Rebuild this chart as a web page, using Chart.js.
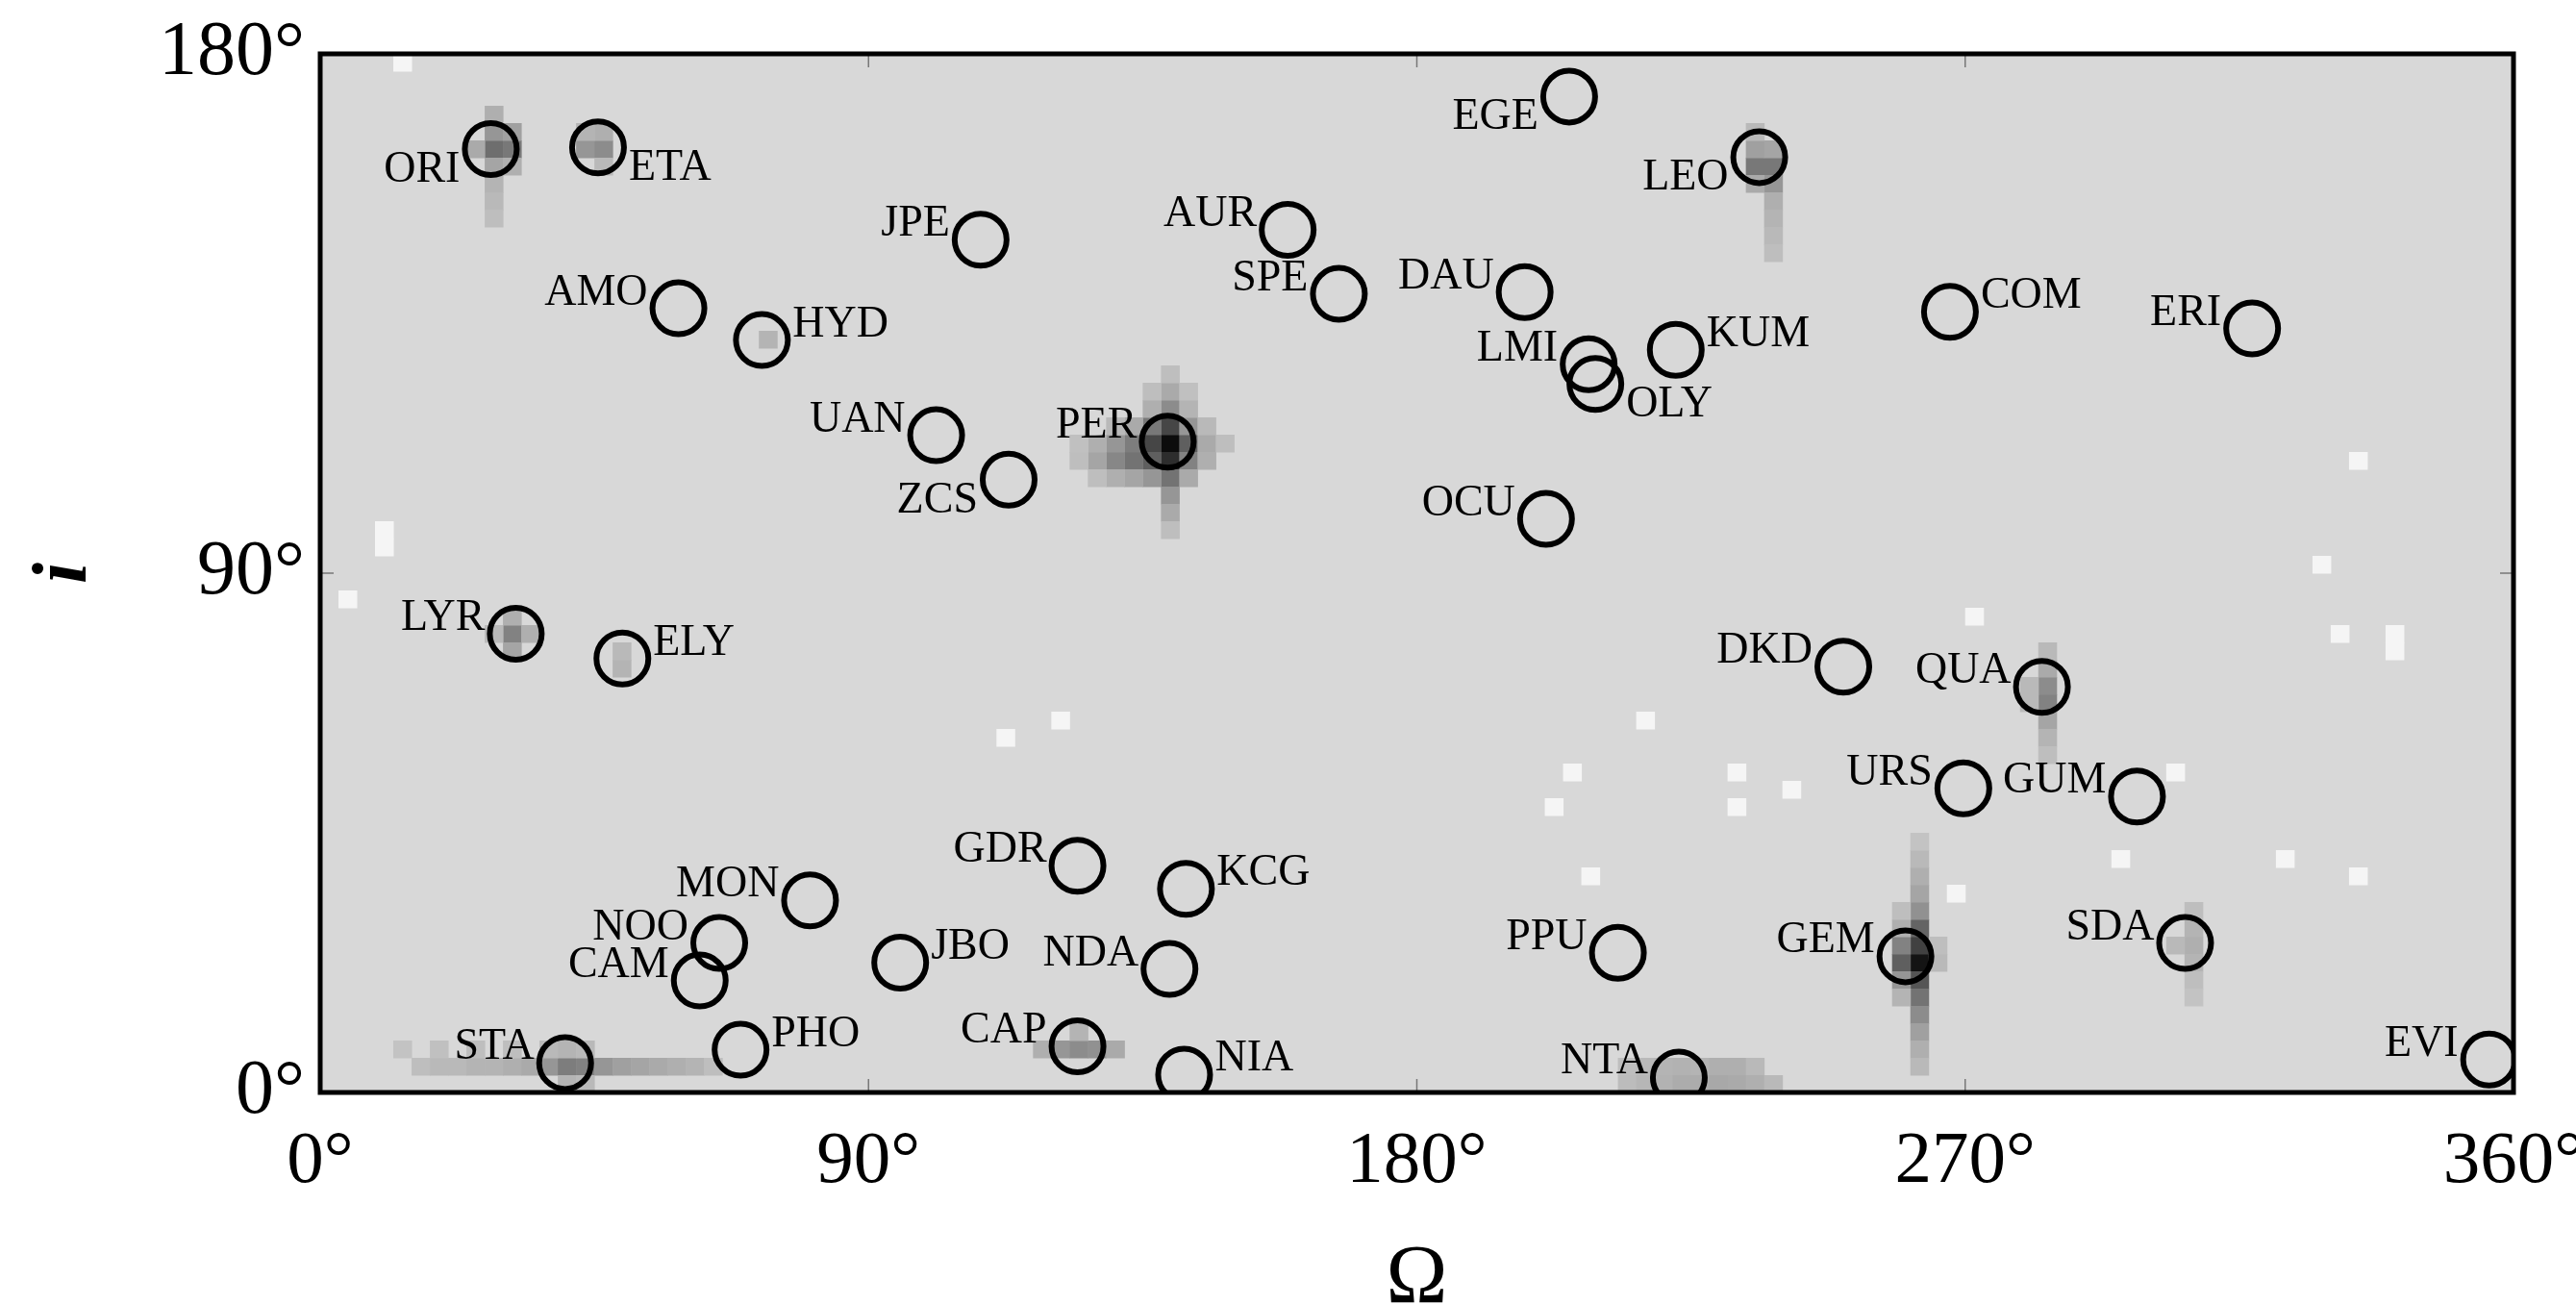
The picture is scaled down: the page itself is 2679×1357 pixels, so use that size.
<!DOCTYPE html>
<html>
<head>
<meta charset="utf-8">
<script src="https://cdn.jsdelivr.net/npm/chart.js@4.4.1/dist/chart.umd.min.js"></script>
<style>
  html, body { margin: 0; padding: 0; background: #fff; }
  #wrap { width: 2679px; height: 1357px; }
</style>
</head>
<body>
<div id="wrap"><canvas id="chart" width="2679" height="1357"></canvas></div>
<script>
// Meteor shower radiants: node longitude (Omega) and inclination (i), in degrees
const showerCodes = ['ORI','ETA','JPE','AUR','EGE','LEO','SPE','DAU','AMO','HYD','COM','ERI','LMI','KUM','OLY',
  'UAN','PER','ZCS','OCU','LYR','ELY','DKD','QUA','URS','GUM','GDR','KCG','MON','NOO','CAM','JBO','NDA','PPU',
  'GEM','SDA','CAP','STA','PHO','NIA','NTA','EVI'];
const showerNode = [28.0, 45.6, 108.4, 158.8, 205.0, 236.2, 167.2, 197.7, 58.8, 72.5, 267.5, 317.1, 208.2, 222.5, 209.3,
  101.1, 139.1, 113.0, 201.2, 32.1, 49.6, 250.0, 282.6, 269.7, 298.2, 124.3, 142.1, 80.4, 65.5, 62.3, 95.2, 139.4, 213.0,
  260.2, 306.1, 124.3, 40.2, 69.0, 141.8, 223.0, 356.0];
const showerIncl = [163.5, 163.8, 147.8, 149.5, 172.6, 162.1, 138.4, 138.7, 135.9, 130.4, 135.3, 132.4, 126.2, 128.7, 122.8,
  113.9, 112.8, 106.2, 99.4, 79.5, 75.2, 73.8, 70.3, 52.7, 51.3, 39.3, 35.3, 33.3, 25.9, 19.4, 22.5, 21.4, 24.2,
  23.6, 25.9, 8.0, 5.1, 7.4, 3.1, 2.6, 5.7];

const xTicks = [0, 90, 180, 270, 360];
const yTicks = [0, 90, 180];

// density map: 3x3 degree cells [Omega start, i start, grey level]
const baseShade = 216;
const hotCells = [
  // PER
  [138,111,12],[138,114,70],[138,108,45],[135,111,70],[141,111,95],[135,108,95],[132,108,115],[129,108,135],
  [126,108,165],[141,108,130],[132,111,125],[129,111,150],[126,111,175],[135,114,120],[141,114,150],[144,111,170],
  [144,108,175],[144,114,185],[138,117,140],[138,120,170],[138,123,190],[138,105,115],[138,102,150],[138,99,170],
  [138,96,190],[135,105,150],[132,105,165],[129,105,175],[141,105,170],[135,117,175],[141,117,180],[132,114,170],
  [129,114,185],[123,108,190],[123,111,192],[126,105,190],[147,111,190],[135,120,190],[141,120,192],
  // GEM
  [261,21,20],[261,24,65],[261,18,85],[261,27,100],[261,15,115],[261,30,145],[261,12,140],[261,33,165],[261,9,160],
  [261,36,175],[261,6,175],[261,39,185],[261,3,185],[261,42,195],[258,21,95],[258,24,130],[258,18,150],[258,27,175],
  [258,15,180],[258,30,190],[264,21,185],[264,24,190],
  // ORI, ETA
  [27,162,110],[30,162,120],[27,165,150],[30,165,160],[24,162,170],[27,168,175],[27,159,165],[30,159,175],[27,156,180],
  [27,153,185],[27,150,190],[42,162,150],[45,162,140],[45,165,175],[42,165,180],[45,159,185],
  // LEO
  [234,159,120],[237,159,120],[234,162,160],[237,162,165],[237,156,150],[234,156,170],[237,153,175],[237,150,180],
  [237,147,185],[237,144,190],[234,165,185],
  // STA band
  [15,3,190],[18,3,185],[21,3,185],[24,3,180],[27,3,180],[30,3,175],[33,3,170],[36,3,150],[39,3,125],[42,3,130],
  [45,3,150],[48,3,160],[51,3,165],[54,3,170],[57,3,175],[60,3,180],[63,3,190],[12,6,195],[18,6,192],[24,6,190],
  [30,6,190],[36,6,185],[39,6,180],[42,6,185],[39,0,180],[42,0,185],
  // CAP
  [117,6,175],[120,6,150],[123,6,140],[126,6,145],[129,6,170],[123,9,180],
  // NTA band
  [213,3,190],[216,3,185],[219,3,180],[222,3,178],[225,3,180],[228,3,175],[231,3,175],[234,3,185],
  [213,0,188],[216,0,182],[219,0,178],[222,0,172],[225,0,172],[228,0,168],[231,0,170],[234,0,175],[237,0,185],
  // QUA
  [282,66,130],[282,69,140],[282,72,170],[282,63,165],[282,60,180],[282,57,190],[282,75,185],[279,69,185],[279,66,185],
  // LYR, ELY, SDA, HYD
  [30,78,130],[30,75,165],[30,81,175],[33,78,175],[27,78,185],[48,72,180],[48,75,185],
  [306,24,175],[306,27,180],[306,21,180],[303,24,185],[306,30,190],[306,18,190],[306,15,195],[72,129,180]
];
const paleCells = [
  [9,93],[9,96],[3,84],[120,63],[111,60],[216,63],[204,54],[201,48],[207,36],[270,81],[327,90],[330,78],[339,75],
  [339,78],[231,54],[231,48],[240,51],[303,54],[321,39],[333,36],[294,39],[267,33],[333,108],[12,177]
];

// where each label sits next to its circle (default: left, above)
const labelSide = { ORI:'lb', ETA:'rb', EGE:'lb', LEO:'lb', OLY:'rb', ZCS:'lb', HYD:'ra', COM:'ra', KUM:'ra',
  ELY:'ra', KCG:'ra', JBO:'ra', PHO:'ra', NIA:'ra' };

const serif = '"Liberation Serif", "DejaVu Serif", serif';

const heatmapPlugin = {
  id: 'heatmap',
  beforeDatasetsDraw(chart) {
    const { ctx, chartArea: a, scales: { x, y } } = chart;
    ctx.save();
    ctx.beginPath();
    ctx.rect(a.left, a.top, a.right - a.left, a.bottom - a.top);
    ctx.clip();
    ctx.fillStyle = `rgb(${baseShade},${baseShade},${baseShade})`;
    ctx.fillRect(a.left, a.top, a.right - a.left, a.bottom - a.top);
    const cell = (om, inc, g) => {
      const x0 = x.getPixelForValue(om), x1 = x.getPixelForValue(om + 3);
      const y0 = y.getPixelForValue(inc + 3), y1 = y.getPixelForValue(inc);
      ctx.fillStyle = `rgb(${g},${g},${g})`;
      ctx.fillRect(x0, y0, x1 - x0 + 0.5, y1 - y0 + 0.5);
    };
    paleCells.forEach(c => cell(c[0], c[1], 245));
    hotCells.forEach(c => cell(c[0], c[1], c[2]));
    ctx.restore();
  }
};

const labelPlugin = {
  id: 'showerLabels',
  afterDatasetsDraw(chart) {
    const { ctx } = chart;
    const meta = chart.getDatasetMeta(0);
    ctx.save();
    ctx.font = '46px ' + serif;
    ctx.fillStyle = '#000';
    ctx.textBaseline = 'alphabetic';
    meta.data.forEach((pt, k) => {
      const code = showerCodes[k];
      const side = labelSide[code] || 'la';
      const dx = 32, dy = 19, capHalf = 15;
      let tx, ty;
      if (side[0] === 'l') { ctx.textAlign = 'right'; tx = pt.x - dx; }
      else { ctx.textAlign = 'left'; tx = pt.x + dx; }
      ty = (side[1] === 'a' ? pt.y - dy : pt.y + dy) + capHalf;
      ctx.fillText(code, tx, ty);
    });
    ctx.restore();
  }
};

const framePlugin = {
  id: 'frame',
  afterDraw(chart) {
    const { ctx, chartArea: a, scales: { x, y } } = chart;
    ctx.save();
    // small inward ticks
    ctx.strokeStyle = '#777';
    ctx.lineWidth = 1.5;
    xTicks.slice(1, -1).forEach(v => {
      const px = x.getPixelForValue(v);
      ctx.beginPath();
      ctx.moveTo(px, a.bottom); ctx.lineTo(px, a.bottom - 14);
      ctx.moveTo(px, a.top); ctx.lineTo(px, a.top + 14);
      ctx.stroke();
    });
    yTicks.slice(1, -1).forEach(v => {
      const py = y.getPixelForValue(v);
      ctx.beginPath();
      ctx.moveTo(a.left, py); ctx.lineTo(a.left + 14, py);
      ctx.moveTo(a.right, py); ctx.lineTo(a.right - 14, py);
      ctx.stroke();
    });
    ctx.strokeStyle = '#000';
    ctx.lineWidth = 5;
    ctx.strokeRect(a.left, a.top, a.right - a.left, a.bottom - a.top);
    ctx.restore();
  }
};

const ctx = document.getElementById('chart').getContext('2d');
new Chart(ctx, {
  type: 'scatter',
  data: {
    datasets: [{
      data: showerNode.map((om, k) => ({ x: om, y: showerIncl[k] })),
      pointStyle: 'circle',
      pointRadius: 27,
      pointHoverRadius: 27,
      borderWidth: 6,
      borderColor: '#000',
      backgroundColor: 'rgba(0,0,0,0)',
      clip: 0
    }]
  },
  options: {
    responsive: false,
    animation: false,
    devicePixelRatio: 1,
    events: [],
    layout: { padding: { left: 0, right: 65, top: 56, bottom: 0 } },
    plugins: { legend: { display: false }, tooltip: { enabled: false } },
    scales: {
      x: {
        type: 'linear', min: 0, max: 360,
        afterBuildTicks: s => { s.ticks = xTicks.map(v => ({ value: v })); },
        afterFit: s => { s.height = 221; s.paddingLeft = 0; s.paddingRight = 0; },
        grid: { display: false, drawTicks: false },
        border: { display: false },
        ticks: { color: '#000', padding: 27, maxRotation: 0, font: { family: serif, size: 77 },
          callback: v => v + '°' },
        title: { display: true, text: 'Ω', color: '#000', font: { family: serif, size: 86, lineHeight: 0.6 },
          padding: { top: 0, bottom: 0 } }
      },
      y: {
        type: 'linear', min: 0, max: 180,
        afterBuildTicks: s => { s.ticks = yTicks.map(v => ({ value: v })); },
        afterFit: s => { s.width = 333; s.paddingTop = 0; s.paddingBottom = 0; },
        grid: { display: false, drawTicks: false },
        border: { display: false },
        ticks: { color: '#000', padding: 16, font: { family: serif, size: 80 },
          callback: v => v + '°' },
        title: { display: true, text: 'i', color: '#000',
          font: { family: serif, size: 80, style: 'italic', weight: 'bold' },
          padding: { top: 20, bottom: 0 } }
      }
    }
  },
  plugins: [heatmapPlugin, labelPlugin, framePlugin]
});
</script>
</body>
</html>
